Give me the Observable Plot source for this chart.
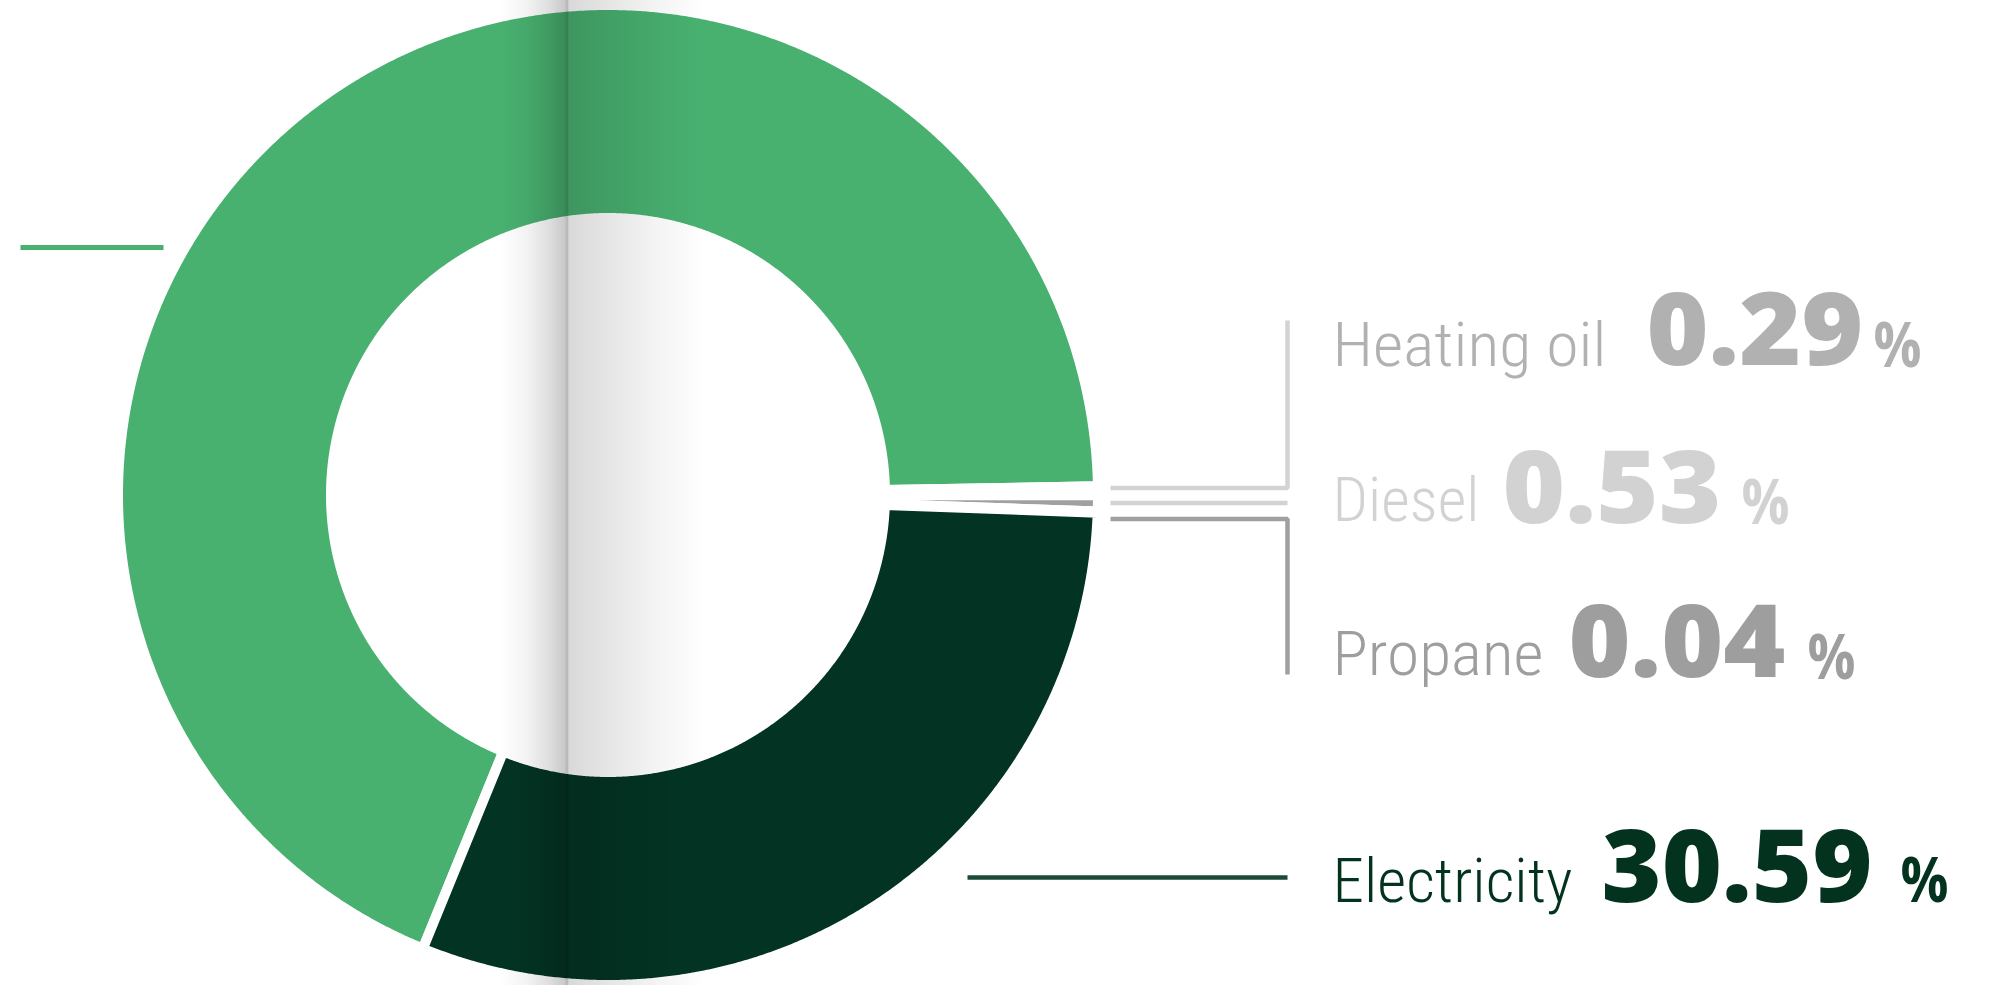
<!DOCTYPE html>
<html>
<head>
<meta charset="utf-8">
<script src="https://cdn.jsdelivr.net/npm/d3@7"></script>
<script src="https://cdn.jsdelivr.net/npm/@observablehq/plot@0.6"></script>
<style>
  html, body { margin: 0; padding: 0; background: #ffffff; overflow: hidden; }
  #chart { width: 1990px; height: 985px; }
</style>
</head>
<body>
<div id="chart"></div>
<script>
// ---------------- DATA ----------------
const categories = ["Natural gas", "Heating oil", "Diesel", "Propane", "Electricity"];
const shares = [68.55, 0.29, 0.53, 0.04, 30.59];
const sliceColors = ["#48b170", "#b3b3b3", "#a0a0a0", "#9d9d9d", "#033423"];

const labelCategories = ["Heating oil", "Diesel", "Propane", "Electricity"];
const labelColors = ["#b1b1b1", "#d2d2d2", "#9e9e9e", "#03331f"];
const lineColors = ["#d3d3d3", "#d3d3d3", "#a0a0a0", "#1d4a35"];

// ---------------- LAYOUT ----------------
const W = 1990, H = 985;
const CX = 608, CY = 495;          // donut centre (px)
const R_OUT = 485, R_IN = 282;     // visible radii (px)
const GAP = 10;                    // white separator width
const START_DEG = 202.2;           // angle where the first slice starts (clockwise from 12 o'clock)

const px = v => v - CX;            // pixel -> data x
const py = v => CY - v;            // pixel -> data y

// label anchor positions (pixels, baselines)
const labelLayout = {
  "Heating oil": {lx: 1332, ly: 365, vx: 1646, vy: 364, px: 1873, py: 366,
                  line: [[1110, 487.5], [1287, 487.5], [1287, 320]]},
  "Diesel":      {lx: 1332, ly: 520, vx: 1502, vy: 522, px: 1741, py: 523,
                  line: [[1110, 502.5], [1287, 502.5]]},
  "Propane":     {lx: 1332, ly: 674, vx: 1568, vy: 676, px: 1807, py: 678,
                  line: [[1110, 518.5], [1287, 518.5], [1287, 674]]},
  "Electricity": {lx: 1332, ly: 901, vx: 1601, vy: 901, px: 1900, py: 901,
                  line: [[967, 877], [1287, 877]]}
};
const gasLine = [[20, 247], [163, 247]];

// measured ink widths (px)
const textWidths = {
  "Heating oil": 274, "Diesel": 147, "Propane": 211, "Electricity": 240,
  "0.29": 217, "0.53": 219, "0.04": 217, "30.59": 271, "%": 48
};

// ---------------- GEOMETRY OF SLICES ----------------
const start = START_DEG * Math.PI / 180;
const arcs = d3.pie().sort(null).value(d => d)
  .startAngle(start).endAngle(start + 2 * Math.PI)(shares);

const ro = R_OUT + GAP / 2, ri = R_IN - GAP / 2;
const ringRows = [];
arcs.forEach((a, i) => {
  const span = a.endAngle - a.startAngle;
  const n = Math.max(2, Math.ceil(span / (0.25 * Math.PI / 180)) + 1);
  for (let k = 0; k < n; k++) {
    const t = a.startAngle + span * k / (n - 1);
    ringRows.push({
      cat: categories[i],
      x1: ro * Math.sin(t), y1: ro * Math.cos(t),
      x2: ri * Math.sin(t), y2: ri * Math.cos(t)
    });
  }
});

// ---------------- MARKS ----------------
const fmt = d3.format(".2f");
const marks = [
  Plot.area(ringRows, {
    x1: "x1", y1: "y1", x2: "x2", y2: "y2",
    z: "cat", fill: "cat", stroke: "white", strokeWidth: GAP, curve: "linear"
  }),
  Plot.line(gasLine, {
    x: d => px(d[0]), y: d => py(d[1]),
    stroke: sliceColors[0], strokeWidth: 5, strokeLinecap: "butt"
  })
];

labelCategories.forEach((cat, i) => {
  const L = labelLayout[cat];
  const value = shares[categories.indexOf(cat)];
  marks.push(
    Plot.line(L.line, {
      x: d => px(d[0]), y: d => py(d[1]),
      stroke: lineColors[i], strokeWidth: 4.5,
      strokeLinecap: "butt", strokeLinejoin: "miter"
    }),
    Plot.text([cat], {
      x: px(L.lx), y: py(L.ly), text: d => d,
      fill: labelColors[i], fontSize: 61, fontWeight: 300,
      fontFamily: "'Roboto Condensed', Roboto, 'Liberation Sans', sans-serif",
      textAnchor: "start", lineAnchor: "bottom"
    }),
    Plot.text([value], {
      x: px(L.vx), y: py(L.vy), text: d => fmt(d),
      fill: labelColors[i], fontSize: 101, fontWeight: 800,
      fontFamily: "'Open Sans', 'Liberation Sans', sans-serif",
      textAnchor: "start", lineAnchor: "bottom"
    }),
    Plot.text(["%"], {
      x: px(L.px), y: py(L.py), text: d => d,
      fill: labelColors[i], fontSize: 62, fontWeight: 700,
      fontFamily: "'Open Sans', 'Liberation Sans', sans-serif",
      textAnchor: "start", lineAnchor: "bottom"
    })
  );
});

const chart = Plot.plot({
  width: W, height: H,
  margin: 0, marginTop: 0, marginRight: 0, marginBottom: 0, marginLeft: 0,
  x: {domain: [-CX, W - CX], range: [0, W], axis: null},
  y: {domain: [CY - H, CY], range: [H, 0], axis: null},
  color: {domain: categories, range: sliceColors},
  style: {background: "#ffffff", overflow: "visible"},
  marks
});

document.getElementById("chart").appendChild(chart);

// fit each text horizontally to its measured width (keeps letter spacing natural)
const svg = d3.select(chart.tagName.toLowerCase() === "svg" ? chart : chart.querySelector("svg"));
svg.selectAll("text").each(function () {
  const w = textWidths[this.textContent];
  if (!w) return;
  const bb = this.getBBox();
  if (!bb.width) return;
  const k = w / bb.width;
  const x0 = bb.x;
  const tr = this.getAttribute("transform") || "";
  this.setAttribute("transform", `${tr} translate(${x0},0) scale(${k},1) translate(${-x0},0)`);
});

// book-gutter shading of the printed page
const defs = svg.append("defs");
const g = defs.append("linearGradient").attr("id", "gutter")
  .attr("x1", 0).attr("x2", 1).attr("y1", 0).attr("y2", 0);
[
  [0, "#ffffff"], [0.13, "#f3f3f3"], [0.245, "#dddddd"], [0.315, "#c9c9c9"],
  [0.322, "#bcbcbc"], [0.330, "#b8b8b8"], [0.336, "#d9d9d9"], [0.57, "#e8e8e8"],
  [0.77, "#f4f4f4"], [1, "#ffffff"]
].forEach(([o, c]) => g.append("stop").attr("offset", o).attr("stop-color", c));
svg.append("rect")
  .attr("x", 500).attr("y", 0).attr("width", 205).attr("height", H)
  .attr("fill", "url(#gutter)")
  .style("mix-blend-mode", "multiply");
</script>
</body>
</html>
